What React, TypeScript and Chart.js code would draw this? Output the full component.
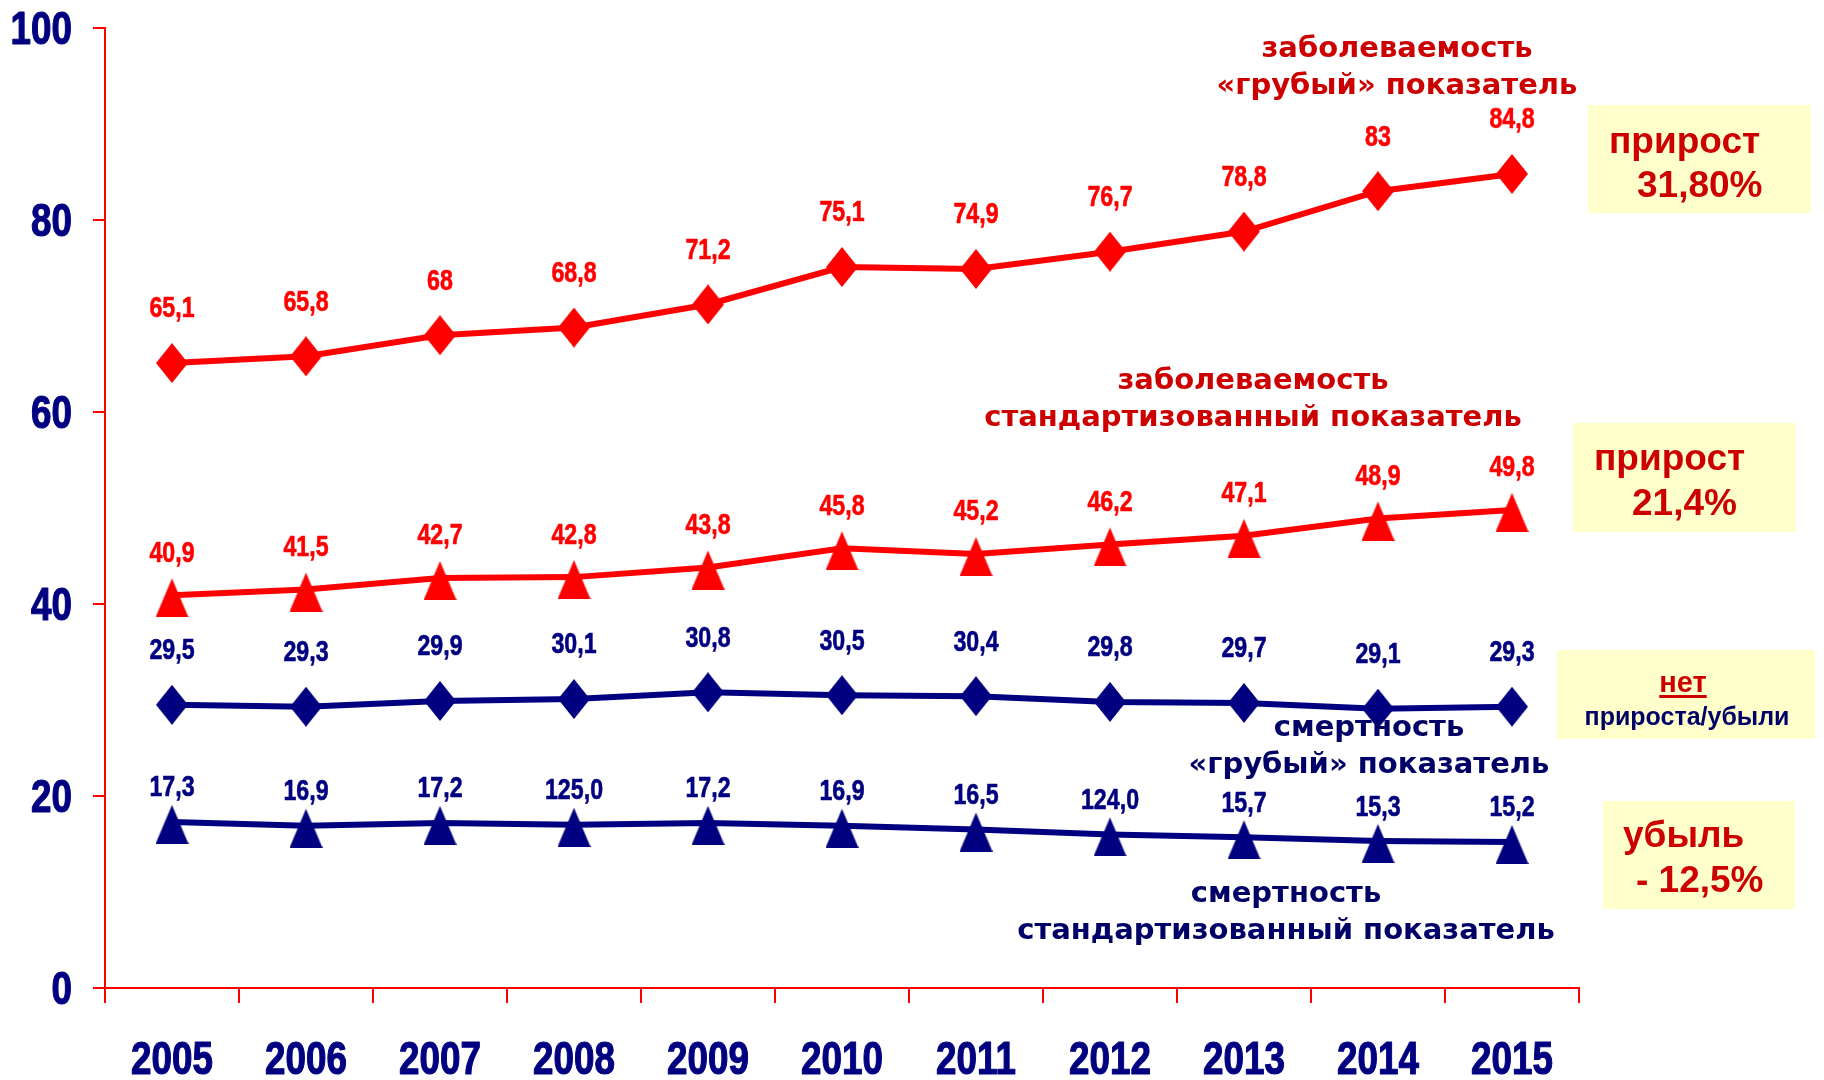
import React, { useEffect, useRef } from "react";
import { Chart, registerables } from "chart.js";

Chart.register(...registerables);

const years = ["2005", "2006", "2007", "2008", "2009", "2010", "2011", "2012", "2013", "2014", "2015"];
const morbCrude = [65.1, 65.8, 68, 68.8, 71.2, 75.1, 74.9, 76.7, 78.8, 83, 84.8];
const morbStd = [40.9, 41.5, 42.7, 42.8, 43.8, 45.8, 45.2, 46.2, 47.1, 48.9, 49.8];
const mortCrude = [29.5, 29.3, 29.9, 30.1, 30.8, 30.5, 30.4, 29.8, 29.7, 29.1, 29.3];
const mortStd = [17.3, 16.9, 17.2, 17.0, 17.2, 16.9, 16.5, 16.0, 15.7, 15.3, 15.2];
const mortStdLabels = ["17,3", "16,9", "17,2", "125,0", "17,2", "16,9", "16,5", "124,0", "15,7", "15,3", "15,2"];
const yMin = 0;
const yMax = 100;
const yStep = 20;

const RED = "#FF0000";
const NAVY = "#000080";
const DARK_RED = "#CC0000";
const DARK_NAVY = "#000066";
const NUM_FONT = "'Liberation Sans', Arial, sans-serif";
const NARROW = 0.8;
const NOTE_FONT = "'DejaVu Sans', Verdana, sans-serif";
const BOX_FONT = "'Liberation Sans', Arial, sans-serif";

function fmt(v: number): string {
  return String(v).replace(".", ",");
}

function narrowText(ctx: any, text: string, x: number, y: number, align: "center" | "right", stroke: number) {
  ctx.save();
  ctx.translate(x, y);
  ctx.scale(NARROW, 1);
  ctx.textAlign = align;
  ctx.fillText(text, 0, 0);
  if (stroke > 0) {
    ctx.strokeStyle = ctx.fillStyle;
    ctx.lineWidth = stroke;
    ctx.lineJoin = "round";
    ctx.strokeText(text, 0, 0);
  }
  ctx.restore();
}

function makeDiamond(color: string): HTMLCanvasElement {
  const c = document.createElement("canvas");
  c.width = 32;
  c.height = 40;
  const g = c.getContext("2d")!;
  g.fillStyle = color;
  g.beginPath();
  g.moveTo(16, 0);
  g.lineTo(32, 20);
  g.lineTo(16, 40);
  g.lineTo(0, 20);
  g.closePath();
  g.fill();
  return c;
}

function makeTriangle(color: string): HTMLCanvasElement {
  const c = document.createElement("canvas");
  c.width = 33;
  c.height = 44;
  const g = c.getContext("2d")!;
  g.fillStyle = color;
  g.beginPath();
  g.moveTo(16.5, 5);
  g.lineTo(33, 44);
  g.lineTo(0, 44);
  g.closePath();
  g.fill();
  return c;
}

type Note = { lines: string[]; color: string; x: number; y: number };
const notes: Note[] = [
  { lines: ["заболеваемость", "«грубый» показатель"], color: DARK_RED, x: 1397, y: 57 },
  { lines: ["заболеваемость", "стандартизованный показатель"], color: DARK_RED, x: 1253, y: 389 },
  { lines: ["смертность", "«грубый» показатель"], color: DARK_NAVY, x: 1369, y: 736 },
  { lines: ["смертность", "стандартизованный показатель"], color: DARK_NAVY, x: 1286, y: 902 },
];

const axisLabelPlugin = {
  id: "axisLabels",
  afterDraw(chart: any) {
    const ctx = chart.ctx;
    const xs = chart.scales.x;
    const ys = chart.scales.y;
    ctx.save();
    ctx.fillStyle = NAVY;
    ctx.font = `bold 46px ${NUM_FONT}`;
    ctx.textBaseline = "alphabetic";
    const cap = 0.716 * 46;
    years.forEach((lab, i) => {
      narrowText(ctx, lab, xs.getPixelForTick(i), 1058 + cap / 2, "center", 1.2);
    });
    ys.ticks.forEach((t: any) => {
      narrowText(ctx, String(t.value), 72, ys.getPixelForValue(t.value) + cap / 2, "right", 1.2);
    });
    ctx.restore();
  },
};

const labelPlugin = {
  id: "pointLabels",
  afterDatasetsDraw(chart: any) {
    const ctx = chart.ctx;
    const specs = [
      { ds: 0, color: RED, off: 56, texts: morbCrude.map(fmt) },
      { ds: 1, color: RED, off: 44, texts: morbStd.map(fmt) },
      { ds: 2, color: NAVY, off: 56, texts: mortCrude.map(fmt) },
      { ds: 3, color: NAVY, off: 36, texts: mortStdLabels },
    ];
    ctx.save();
    ctx.font = `bold 29px ${NUM_FONT}`;
    ctx.textBaseline = "alphabetic";
    const half = (0.716 * 29) / 2;
    for (const s of specs) {
      const meta = chart.getDatasetMeta(s.ds);
      ctx.fillStyle = s.color;
      meta.data.forEach((pt: any, i: number) => {
        narrowText(ctx, s.texts[i], pt.x, pt.y - s.off + half, "center", 0.6);
      });
    }
    ctx.restore();
  },
};

const notePlugin = {
  id: "notes",
  afterDraw(chart: any) {
    const ctx = chart.ctx;
    ctx.save();
    ctx.textBaseline = "alphabetic";
    ctx.font = `bold 29px ${NOTE_FONT}`;
    ctx.textAlign = "center";
    for (const n of notes) {
      ctx.fillStyle = n.color;
      n.lines.forEach((ln, i) => ctx.fillText(ln, n.x, n.y + i * 37));
    }
    ctx.fillStyle = "#FFFFCC";
    ctx.fillRect(1588, 105, 223, 108);
    ctx.fillRect(1573, 423, 223, 109);
    ctx.fillRect(1557, 650, 258, 89);
    ctx.fillRect(1603, 801, 192, 108);

    ctx.textAlign = "left";
    ctx.fillStyle = DARK_RED;
    ctx.font = `bold 37px ${BOX_FONT}`;
    ctx.fillText("прирост", 1609, 153);
    ctx.fillText("31,80%", 1637, 197);
    ctx.fillText("прирост", 1594, 470);
    ctx.fillText("21,4%", 1632, 515);
    ctx.fillText("убыль", 1623, 847);
    ctx.fillText("- 12,5%", 1636, 892);

    ctx.textAlign = "center";
    ctx.font = `bold 29px ${BOX_FONT}`;
    ctx.fillText("нет", 1683, 692);
    const w = ctx.measureText("нет").width;
    ctx.fillRect(1683 - w / 2, 695, w, 3);
    ctx.fillStyle = DARK_NAVY;
    ctx.font = `bold 25px ${BOX_FONT}`;
    ctx.fillText("прироста/убыли", 1687, 725);
    ctx.restore();
  },
};

export default function App() {
  const ref = useRef<HTMLCanvasElement | null>(null);

  useEffect(() => {
    if (!ref.current) return;
    const redDiamond = makeDiamond(RED);
    const redTri = makeTriangle(RED);
    const navyDiamond = makeDiamond(NAVY);
    const navyTri = makeTriangle(NAVY);
    const mk = (data: number[], color: string, style: HTMLCanvasElement) => ({
      data,
      borderColor: color,
      backgroundColor: color,
      borderWidth: 6,
      pointStyle: style,
      pointRadius: 16,
      pointHoverRadius: 16,
      tension: 0,
      fill: false,
    });
    const chart = new Chart(ref.current, {
      type: "line",
      data: {
        labels: years,
        datasets: [
          mk(morbCrude, RED, redDiamond),
          mk(morbStd, RED, redTri),
          mk(mortCrude, NAVY, navyDiamond),
          mk(mortStd, NAVY, navyTri),
        ] as any,
      },
      options: {
        responsive: false,
        animation: false,
        layout: { padding: { top: 28, right: 245, left: 0, bottom: 0 } },
        plugins: { legend: { display: false }, tooltip: { enabled: false } },
        scales: {
          x: {
            type: "category",
            offset: true,
            afterFit: (s: any) => {
              s.height = 92;
            },
            grid: {
              offset: true,
              drawOnChartArea: false,
              drawTicks: true,
              tickLength: 15,
              color: RED,
              lineWidth: 2,
            },
            border: { color: RED, width: 2 },
            ticks: { display: false },
          },
          y: {
            min: yMin,
            max: yMax,
            afterFit: (s: any) => {
              s.width = 105;
            },
            grid: {
              drawOnChartArea: false,
              drawTicks: true,
              tickLength: 12,
              color: RED,
              lineWidth: 2,
            },
            border: { color: RED, width: 2 },
            ticks: { display: false, stepSize: yStep },
          },
        },
      } as any,
      plugins: [labelPlugin, notePlugin, axisLabelPlugin],
    });
    return () => chart.destroy();
  }, []);

  return (
    <div style={{ position: "absolute", left: 0, top: 0, width: 1824, height: 1080, background: "#fff" }}>
      <canvas ref={ref} width={1824} height={1080} style={{ display: "block" }} />
    </div>
  );
}
